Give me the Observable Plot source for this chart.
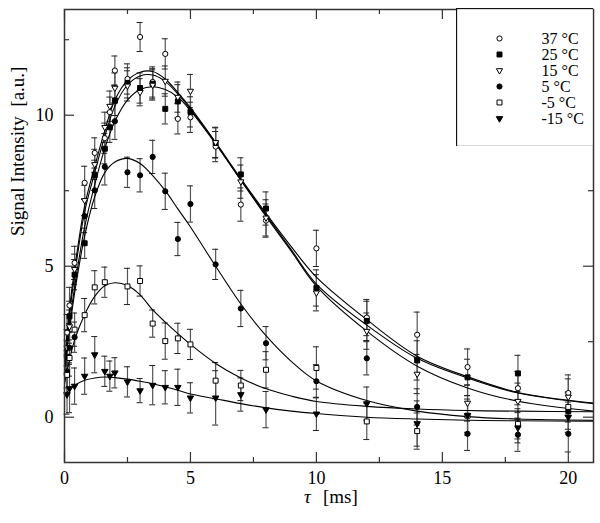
<!DOCTYPE html>
<html><head><meta charset="utf-8">
<script src="https://cdn.jsdelivr.net/npm/d3@7"></script>
<script src="https://cdn.jsdelivr.net/npm/@observablehq/plot@0.6"></script>
<style>
body{margin:0;background:#fff;}
#wrap{position:relative;width:600px;height:523px;font-family:"Liberation Serif","Times New Roman",serif;}
#legend{position:absolute;left:456px;top:8px;}
</style></head><body><div id="wrap"><div id="chart"></div><div id="legend"></div></div>
<script>
// ---- data ----
const tau = [0.1,0.2,0.4,0.8,1.2,1.6,1.8,2,2.5,3,3.5,4,4.5,5,6,7,8,10,12,14,16,18,20];
const labels = ["37 °C","25 °C","15 °C","5 °C","-5 °C","-15 °C"];

const v37  = [2.8,3.7,5.11,7.76,8.75,9.24,10.1,11.48,11.2,12.59,11.1,12.03,9.88,9.93,8.96,7.04,6.51,5.59,3.3,2.73,1.66,0.96,0.80];
const v25  = [2.0,3.34,4.72,5.76,8.01,8.89,9.6,10.49,11.07,10.9,11.04,10.21,10.46,10.11,9.08,8.04,6.91,4.28,3.19,1.88,1.32,1.45,0.2];
const v15  = [2.3,3.0,4.9,7.18,8.37,9.6,10.3,10.9,10.97,10.76,11.0,11.13,10.6,10.8,9.1,7.8,6.6,4.12,2.85,1.43,0.47,0.53,0.67];
const v5   = [1.52,2.3,2.65,6.66,7.51,8.29,null,9.8,8.11,8.01,8.62,7.48,5.9,7.06,5.06,3.6,2.45,1.19,1.95,0.34,-0.55,-0.58,-0.55];
const vm5  = [1.4,1.96,2.9,3.38,4.3,4.47,null,null,4.33,4.51,3.1,2.52,2.61,2.41,1.21,1.05,1.57,1.63,-0.14,-0.46,0.05,-0.22,0.34];
const vm15 = [0.75,0.95,1.03,1.36,2.07,1.52,1.36,1.47,1.17,0.88,1.06,0.99,0.99,0.64,0.64,0.75,0.25,0.11,0.45,-0.21,0.06,-0.35,0.0];

const e37  = [0.6,0.6,0.55,0.55,0.5,0.5,0.5,0.48,0.5,0.48,0.5,0.5,0.5,0.5,0.5,0.55,0.55,0.6,0.6,0.75,0.6,0.55,0.6];
const e25  = [0.55,0.5,0.5,0.5,0.5,0.5,0.5,0.5,0.5,0.5,0.5,0.5,0.55,0.5,0.5,0.55,0.55,0.6,0.65,0.65,0.6,0.6,0.6];
const e15  = [0.6,0.55,0.5,0.5,0.5,0.5,0.5,0.5,0.5,0.45,0.5,0.5,0.5,0.55,0.5,0.55,0.6,0.6,0.6,0.65,0.6,0.6,0.6];
const e5   = [0.55,0.5,0.5,0.55,0.6,0.6,0,0.6,0.5,0.55,0.55,0.6,0.55,0.6,0.5,0.6,0.55,0.55,0.55,0.6,0.55,0.55,0.6];
const em5  = [0.6,0.6,0.55,0.55,0.55,0.5,0,0,0.6,0.5,0.45,0.6,0.5,0.5,0.6,0.5,0.6,0.7,0.6,0.6,0.55,0.5,0.5];
const em15 = [0.65,0.8,0.6,0.6,0.6,0.5,0.5,0.5,0.5,0.4,0.65,0.55,0.6,0.5,0.9,0.55,0.6,0.55,0.55,0.75,0.65,0.5,0.5];

// fitted curves
const fitT   = [0,0.2,0.4,0.8,1.2,1.6,2,2.5,3,3.5,4,4.5,5,6,7,8,9,10,12,14,16,18,21];
const fit37  = [1.8,3.6,4.9,7.0,8.3,9.5,10.5,11.15,11.42,11.45,11.2,10.75,10.25,9.1,7.9,6.75,5.65,4.64,3.23,2.02,1.34,0.82,0.47];
const fit25  = [1.6,3.1,4.3,6.3,7.7,8.9,9.8,10.5,10.85,10.94,10.85,10.6,10.15,9.05,7.85,6.7,5.55,4.41,3.05,1.95,1.3,0.8,0.45];
const fit15  = [1.7,3.4,4.7,6.8,8.1,9.3,10.3,11.0,11.3,11.33,11.12,10.7,10.2,9.08,7.85,6.65,5.5,4.34,2.85,1.69,0.97,0.53,0.2];
const fit5   = [1.5,2.9,4.1,6.0,7.3,8.1,8.45,8.57,8.4,8.0,7.5,6.9,6.3,5.0,3.75,2.7,1.85,1.2,0.55,0.2,0.02,-0.06,-0.1];
const fitm5  = [1.1,1.9,2.55,3.4,4.0,4.35,4.45,4.36,4.05,3.55,3.15,2.77,2.41,1.78,1.3,0.94,0.7,0.52,0.36,0.27,0.22,0.2,0.18];
const fitm15 = [0.72,0.92,1.05,1.22,1.3,1.33,1.31,1.26,1.19,1.11,1.01,0.89,0.77,0.61,0.45,0.31,0.2,0.12,0.0,-0.06,-0.1,-0.12,-0.13];

const xMajor = [0,5,10,15,20], xMinor = [2.5,7.5,12.5,17.5];
const yMajor = [0,5,10], yMinor = [2.5,7.5,12.5];

// ---- styling per series ----
const styles = [
  {symbol:"circle", fill:"white", r:2.6, rotate:0},
  {symbol:"square", fill:"black", r:2.8, rotate:0},
  {symbol:"triangle", fill:"white", r:2.3, rotate:180},
  {symbol:"circle", fill:"black", r:2.6, rotate:0},
  {symbol:"square", fill:"white", r:2.8, rotate:0},
  {symbol:"triangle", fill:"black", r:2.4, rotate:180}
];
const values = [v37,v25,v15,v5,vm5,vm15];
const errors = [e37,e25,e15,e5,em5,em15];
const fits = [fit37,fit25,fit15,fit5,fitm5,fitm15];

const rows = [];
labels.forEach((lab, k) => tau.forEach((t, i) => {
  if (values[k][i] != null) rows.push({series: lab, k, t, v: values[k][i], e: errors[k][i]});
}));
const fitRows = [];
labels.forEach((lab, k) => fitT.forEach((t, i) => fitRows.push({series: lab, t, v: fits[k][i]})));

const W = 600, H = 523, mL = 64, mR = 7, mT = 9, mB = 61;
const innerW = W - mL - mR, innerH = H - mT - mB;
const TK = 10, tk = 5, tickColor = "#333";

const chart = Plot.plot({
  width: W, height: H,
  marginLeft: mL, marginRight: mR, marginTop: mT, marginBottom: mB,
  style: {fontFamily: '"Liberation Serif", "Times New Roman", serif', background: "white", color: "black"},
  x: {domain: [0, 21]},
  y: {domain: [-1.5, 13.5]},
  marks: [
    // error bars
    Plot.ruleX(rows, {x: "t", y1: d => d.v - d.e, y2: d => d.v + d.e, stroke: "#555", strokeWidth: 1.2}),
    Plot.ruleY(rows, {y: d => d.v + d.e, x1: "t", x2: "t", insetLeft: -3, insetRight: -3, stroke: "#222", strokeWidth: 1}),
    Plot.ruleY(rows, {y: d => d.v - d.e, x1: "t", x2: "t", insetLeft: -3, insetRight: -3, stroke: "#222", strokeWidth: 1}),
    // fitted curves
    Plot.line(fitRows, {x: "t", y: "v", z: "series", curve: "catmull-rom", stroke: "black", strokeWidth: 1.1}),
    // data points
    ...labels.map((lab, k) => Plot.dot(rows.filter(d => d.k === k), {
      x: "t", y: "v", symbol: styles[k].symbol, r: styles[k].r, rotate: styles[k].rotate,
      fill: styles[k].fill, stroke: "black", strokeWidth: 1
    })),
    // inward ticks on all four sides
    Plot.ruleX(xMajor, {x: d => d, insetTop: innerH - TK, stroke: tickColor, strokeWidth: 1.2}),
    Plot.ruleX(xMinor, {x: d => d, insetTop: innerH - tk, stroke: tickColor, strokeWidth: 1.2}),
    Plot.ruleX(xMajor, {x: d => d, insetBottom: innerH - TK, stroke: tickColor, strokeWidth: 1.2}),
    Plot.ruleX(xMinor, {x: d => d, insetBottom: innerH - tk, stroke: tickColor, strokeWidth: 1.2}),
    Plot.ruleY(yMajor, {y: d => d, insetRight: innerW - TK, stroke: tickColor, strokeWidth: 1.2}),
    Plot.ruleY(yMinor, {y: d => d, insetRight: innerW - tk, stroke: tickColor, strokeWidth: 1.2}),
    Plot.ruleY(yMajor, {y: d => d, insetLeft: innerW - TK, stroke: tickColor, strokeWidth: 1.2}),
    Plot.ruleY(yMinor, {y: d => d, insetLeft: innerW - tk, stroke: tickColor, strokeWidth: 1.2}),
    Plot.frame({stroke: "#333", strokeWidth: 1.5}),
    // tick labels
    Plot.axisX({ticks: xMajor, tickSize: 0, tickPadding: 9, fontSize: 18, label: null}),
    Plot.axisY({ticks: yMajor, tickSize: 0, tickPadding: 11, fontSize: 18, label: null}),
    // axis titles
    Plot.text(["Signal Intensity\u00a0\u00a0[a.u.]"], {frameAnchor: "left", dx: -47, rotate: -90, fontSize: 19, fill: "black"}),
    Plot.text(["τ"], {frameAnchor: "bottom", dy: 40, dx: -25, textAnchor: "start", fontStyle: "italic", fontSize: 19, fill: "black"}),
    Plot.text(["[ms]"], {frameAnchor: "bottom", dy: 40, dx: -6, textAnchor: "start", fontSize: 19, fill: "black"})
  ]
});
document.getElementById("chart").append(chart);

const legend = Plot.plot({
  width: 137, height: 138, margin: 0,
  style: {fontFamily: '"Liberation Serif", "Times New Roman", serif', background: "white", color: "black"},
  y: {type: "point", domain: labels, range: [21, 119], axis: null},
  marks: [
    Plot.frame({stroke: "#111", strokeWidth: 1.3}),
    ...labels.map((lab, k) => Plot.dot([lab], {
      y: d => d, frameAnchor: "left", dx: 43, symbol: styles[k].symbol, r: styles[k].r,
      rotate: styles[k].rotate, fill: styles[k].fill, stroke: "black", strokeWidth: 1
    })),
    Plot.text(labels, {y: d => d, frameAnchor: "left", dx: 85, textAnchor: "start", fontSize: 16, fill: "black"})
  ]
});
document.getElementById("legend").append(legend);
</script>
</body></html>
